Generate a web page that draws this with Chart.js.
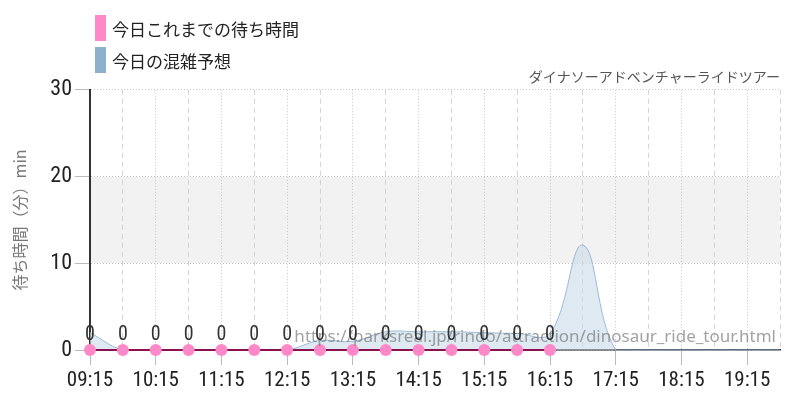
<!DOCTYPE html>
<html><head><meta charset="utf-8">
<script src="https://cdn.jsdelivr.net/npm/chart.js@4.4.1/dist/chart.umd.min.js"></script>
<style>
html,body{margin:0;padding:0;background:#fff;}
#wrap{position:relative;width:800px;height:400px;}
#legend{position:absolute;left:95px;top:15px;font-family:'Noto Sans CJK JP',sans-serif;font-size:17px;color:#222;}
.item{display:flex;align-items:center;height:26px;margin-bottom:6px;}
.box{display:inline-block;width:11px;height:26px;margin-right:6px;}
</style></head><body>
<div id="wrap"><canvas id="c" width="800" height="400"></canvas><div id="legend"></div></div>
<script>
const timeLabels = ['09:15','09:45','10:15','10:45','11:15','11:45','12:15','12:45','13:15','13:45','14:15','14:45','15:15','15:45','16:15','16:45','17:15','17:45','18:15','18:45','19:15','19:45'];
const actualWait = [0,0,0,0,0,0,0,0,0,0,0,0,0,0,0];
const forecastWait = [2.0,0,0,0,0,0,0,1.1,1.0,2.1,2.1,2.1,2.0,1.9,1.9,12.1,0,0,0,0,0,0];
const seriesNames = ['今日これまでの待ち時間','今日の混雑予想'];
const seriesColors = ['#ff88c8','#8fb0cc'];
const bandRange = [10,20];
const yRange = [0,30];
const chartTitle = 'ダイナソーアドベンチャーライドツアー';
const yAxisTitle = '待ち時間（分）min';
const watermarkText = 'https://parksreal.jp/rindo/attraction/dinosaur_ride_tour.html';

const COND = "'Roboto Condensed','Liberation Sans Narrow','DejaVu Sans Condensed',Roboto,sans-serif";
const CJK = "'Noto Sans CJK JP',sans-serif";

const leg = document.getElementById('legend');
seriesNames.forEach((n,i)=>{
  const d=document.createElement('div');d.className='item';
  const b=document.createElement('span');b.className='box';b.style.background=seriesColors[i];
  d.appendChild(b);d.appendChild(document.createTextNode(n));leg.appendChild(d);
});

const bandPlugin = {
  id:'band',
  beforeDraw(chart){
    const {ctx, chartArea, scales:{y}} = chart;
    const y1 = y.getPixelForValue(bandRange[1]), y0 = y.getPixelForValue(bandRange[0]);
    ctx.save();ctx.fillStyle='#f2f2f2';
    ctx.fillRect(chartArea.left, y1, chartArea.right-chartArea.left, y0-y1);
    ctx.restore();
  }
};
const labelPlugin = {
  id:'labels',
  afterDatasetsDraw(chart){
    const ctx = chart.ctx;
    ctx.save();
    ctx.font = "17px 'Noto Sans',sans-serif";
    ctx.fillStyle='rgba(105,105,105,0.62)';
    ctx.textAlign='right';ctx.textBaseline='alphabetic';
    ctx.fillText(watermarkText, chart.chartArea.right-4, chart.chartArea.bottom-8);
    const meta = chart.getDatasetMeta(0);
    ctx.font = "20px "+COND;
    ctx.fillStyle='#333';ctx.textAlign='center';
    meta.data.forEach((pt,i)=>{
      ctx.fillText(String(actualWait[i]), pt.x, pt.y-10);
    });
    ctx.restore();
  }
};

new Chart(document.getElementById('c'), {
  type:'line',
  data:{
    labels: timeLabels,
    datasets:[
      {label:seriesNames[0], data:actualWait, borderColor:'#8a1050', borderWidth:2, clip:false,
       pointBackgroundColor:seriesColors[0], pointBorderWidth:0, pointRadius:6, tension:0, fill:false},
      {label:seriesNames[1], data:forecastWait, borderColor:'#9dbad6', borderWidth:1, clip:false,
       backgroundColor:'rgba(200,218,234,0.6)', pointRadius:0, tension:0.4, fill:'origin'}
    ]
  },
  options:{
    responsive:false, animation:false,
    layout:{padding:{left:0,right:20,top:0,bottom:0}},
    plugins:{
      legend:{display:false},
      tooltip:{enabled:false},
      title:{display:true, text:chartTitle, align:'end', color:'#555',
        font:{family:CJK, size:14, weight:'normal'}, padding:{top:68,bottom:5}}
    },
    scales:{
      x:{
        offset:false,
        afterFit(s){s.height=50;},
        grid:{
          color:(c)=> c.index%2 ? '#d4d4d4' : '#c8c8c8',
          tickColor:(c)=> c.index%2 ? 'rgba(0,0,0,0)' : '#bbb',
          tickLength:15, lineWidth:1
        },
        border:{display:true, color:'#222', width:1.5, dash:(c)=> c.index%2 ? [5,4] : [1,2]},
        ticks:{autoSkip:false, maxRotation:0, color:'#222', font:{family:COND,size:21}, padding:3,
          callback:(v,i)=> i%2 ? '' : timeLabels[i]}
      },
      y:{
        min:yRange[0], max:yRange[1],
        afterFit(s){s.width=90;},
        grid:{color:'#c8c8c8', tickColor:'#bbb', tickLength:15},
        border:{display:true, color:'#333', width:2, dash:[1,2]},
        ticks:{stepSize:10, color:'#222', font:{family:COND,size:22}, padding:3},
        title:{display:true, text:yAxisTitle, color:'#777', font:{family:CJK,size:16}, padding:{top:10,bottom:0}}
      }
    }
  },
  plugins:[bandPlugin,labelPlugin]
});
</script>
</body></html>
